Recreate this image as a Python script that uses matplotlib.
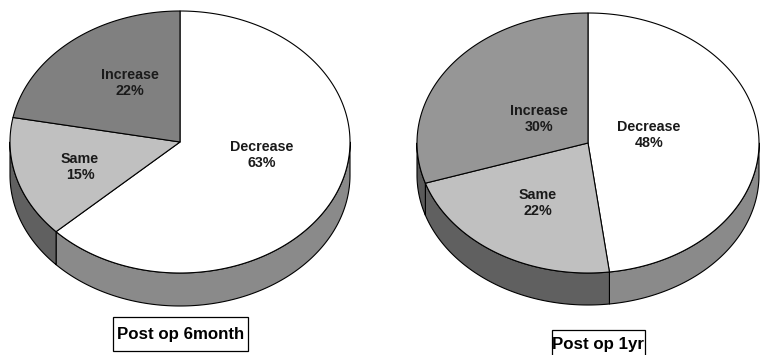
import numpy as np
import matplotlib
matplotlib.use("Agg")
import matplotlib.pyplot as plt
from matplotlib.patches import Polygon, Rectangle

# Data
categories = ["Decrease", "Same", "Increase"]
values_6month = [63, 15, 22]
values_1yr = [48, 22, 30]
titles = ["Post op 6month", "Post op 1yr"]

# Styling
top_colors = [
    ["#ffffff", "#c0c0c0", "#808080"],
    ["#ffffff", "#c0c0c0", "#969696"],
]
side_colors = [
    ["#8a8a8a", "#606060", "#555555"],
    ["#8a8a8a", "#606060", "#5a5a5a"],
]

plt.rcParams["font.family"] = ["Liberation Sans", "DejaVu Sans"]

W, H = 760, 355
fig = plt.figure(figsize=(W / 100, H / 100), dpi=100)
ax = fig.add_axes([0, 0, 1, 1])
ax.set_xlim(0, W)
ax.set_ylim(H, 0)
ax.axis("off")

# Pie layout (pixel space): centre, radii, wall depth
layouts = [
    dict(cx=180, cy=142, rx=170, ry=131, depth=33),
    dict(cx=588, cy=143, rx=171, ry=130, depth=32),
]
# Label anchors for each wedge (pixel space)
label_pos = [
    [(262, 155), (80, 167), (130, 83)],
    [(649, 135), (538, 203), (539, 119)],
]
# Caption boxes: text centre, box (x0, y0, x1, y1)
title_pos = [(181, 335), (598, 345)]
title_box = [(113, 317, 248, 351), (552, 330, 645, 364)]


def ellipse_pts(L, t0, t1, n=200, dy=0.0):
    t = np.radians(np.linspace(t0, t1, n))
    return np.column_stack([L["cx"] + L["rx"] * np.cos(t),
                            L["cy"] - L["ry"] * np.sin(t) + dy])


def draw_pie(L, vals, tops, sides, labels, lpos):
    total = float(sum(vals))
    fracs = np.array(vals) / total
    cum = np.concatenate([[0], np.cumsum(fracs)])
    # angles go clockwise from 12 o'clock
    starts = 90 - 360 * cum[:-1]
    ends = 90 - 360 * cum[1:]

    # side walls (visible lower half: 180..360 deg)
    for s, e, col in zip(starts, ends, sides):
        for shift in (-360, 0, 360):
            lo, hi = e + shift, s + shift
            a, b = max(lo, 180), min(hi, 360)
            if b > a:
                top = ellipse_pts(L, a, b)
                bot = ellipse_pts(L, b, a, dy=L["depth"])
                ax.add_patch(Polygon(np.vstack([top, bot]), closed=True,
                                     facecolor=col, edgecolor="black",
                                     linewidth=0.8, joinstyle="round"))

    # top faces
    for s, e, col in zip(starts, ends, tops):
        arc = ellipse_pts(L, s, e)
        pts = np.vstack([[L["cx"], L["cy"]], arc])
        ax.add_patch(Polygon(pts, closed=True, facecolor=col,
                             edgecolor="black", linewidth=0.8,
                             joinstyle="round"))

    for name, v, (x, y) in zip(labels, vals, lpos):
        ax.text(x, y, f"{name}\n{v}%", ha="center", va="center",
                fontsize=10.3, fontweight="bold", color="#1a1a1a",
                linespacing=1.25)


for L, vals, tops, sides, lpos in zip(layouts, [values_6month, values_1yr],
                                      top_colors, side_colors, label_pos):
    draw_pie(L, vals, tops, sides, categories, lpos)

for title, (x, y), (x0, y0, x1, y1) in zip(titles, title_pos, title_box):
    ax.add_patch(Rectangle((x0, y0), x1 - x0, y1 - y0, facecolor="white",
                           edgecolor="black", linewidth=0.9))
    ax.text(x, y, title, ha="center", va="center", fontsize=12.2,
            fontweight="bold", color="black")

fig.savefig("out.png", dpi=100)
